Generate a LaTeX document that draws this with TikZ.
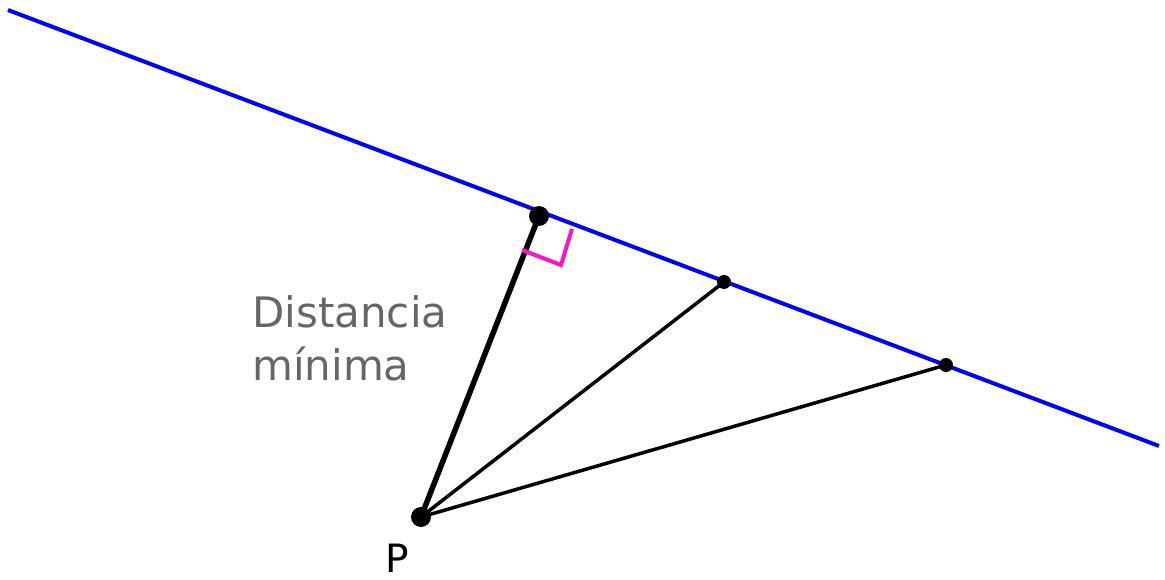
\documentclass[tikz,border=0pt]{standalone}
\usepackage{fontspec}
\setmainfont{DejaVu Sans}
\begin{document}
\begin{tikzpicture}[x=1pt,y=-1pt,
  bigdot/.style={circle,fill=black,inner sep=0pt,minimum size=20pt},
  smalldot/.style={circle,fill=black,inner sep=0pt,minimum size=14pt},
  seg/.style={line width=3.5pt,black},
  thickseg/.style={line width=5.5pt,black},
  lbl/.style={inner sep=0pt,anchor=base west,text=black!60,font=\fontsize{42}{53}\selectfont},
  plbl/.style={inner sep=0pt,anchor=base west,font=\fontsize{39}{47}\selectfont}]
\useasboundingbox (0,0) rectangle (1165,580);
\coordinate (L1) at (8,10);
\coordinate (L2) at (1159,446);
\draw[blue,line width=4pt] (L1) -- (L2);
\node[bigdot] (A) at (539,216) {};
\node[smalldot] (Q1) at (724,282) {};
\node[smalldot] (Q2) at (946,365) {};
\node[bigdot] (P) at (421,517) {};
\draw[seg] (P.center) -- (Q1.center);
\draw[seg] (P.center) -- (Q2.center);
\draw[thickseg] (P.center) -- (A.center);
\coordinate (R1) at (522,250);
\coordinate (R2) at (561,265);
\coordinate (R3) at (572,229);
\draw[line width=4pt,color={rgb,255:red,250;green,20;blue,200}] (R1) -- (R2) -- (R3);
\node[lbl] (t1) at (252,327) {Distancia};
\node[lbl] (t2) at (252,380) {mínima};
\node[plbl] (pl) at (385,572) {P};
\end{tikzpicture}
\end{document}
